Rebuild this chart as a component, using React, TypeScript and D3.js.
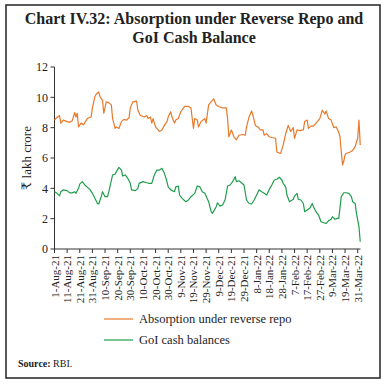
import React from "react";
import * as d3 from "d3";

// day offsets from 1-Aug-21 and values (₹ lakh crore)
const repoDays = [0, 1, 4, 5, 7, 10, 12, 14, 16, 17, 18, 19, 21, 23, 26, 29, 30, 32, 33, 35, 36, 38, 39, 41, 43, 45, 46, 48, 49, 51, 53, 55, 57, 59, 60, 62, 65, 66, 68, 71, 73, 74, 76, 77, 78, 80, 82, 83, 85, 87, 89, 90, 92, 93, 95, 96, 98, 100, 103, 106, 108, 110, 111, 113, 114, 116, 119, 120, 122, 124, 126, 128, 130, 133, 136, 137, 138, 140, 142, 144, 146, 149, 151, 152, 154, 156, 157, 159, 161, 163, 165, 166, 168, 170, 172, 175, 176, 179, 181, 183, 185, 187, 189, 190, 192, 194, 197, 198, 200, 201, 203, 205, 208, 210, 212, 214, 215, 217, 219, 221, 223, 225, 226, 227, 228, 229, 230, 231, 234, 236, 238, 240, 241, 242];
const repoValues = [8.5, 8.6, 8.8, 8.3, 8.5, 8.4, 8.35, 8.45, 9.0, 8.7, 8.95, 8.05, 8.3, 8.2, 8.6, 8.7, 9.3, 10.05, 10.2, 10.35, 10.05, 9.8, 8.95, 9.7, 9.65, 9.5, 8.6, 7.95, 8.05, 7.95, 8.4, 8.55, 8.5, 8.65, 9.3, 9.7, 9.75, 9.15, 8.8, 8.7, 8.8, 8.6, 8.7, 8.3, 8.6, 8.05, 7.85, 7.75, 7.85, 8.15, 8.4, 8.7, 9.05, 8.7, 8.3, 8.5, 8.6, 9.05, 9.4, 9.4, 9.3, 7.95, 8.6, 8.5, 8.05, 8.4, 8.6, 8.3, 9.5, 9.7, 9.9, 9.5, 9.4, 9.3, 9.3, 8.6, 7.4, 7.85, 7.4, 7.2, 7.5, 7.55, 7.5, 8.05, 8.7, 9.1, 8.85, 8.15, 8.05, 7.85, 7.85, 7.5, 7.6, 7.4, 7.35, 7.3, 6.4, 6.3, 6.85, 7.6, 8.15, 7.75, 8.0, 7.3, 7.85, 7.8, 7.85, 8.4, 8.5, 7.95, 8.1, 8.1, 8.4, 8.6, 9.15, 8.9, 9.1, 8.6, 8.5, 8.0, 8.05, 7.7, 7.4, 6.4, 5.55, 5.8, 6.2, 6.3, 6.4, 6.5, 6.75, 7.3, 8.5, 6.85];

const cashDays = [0, 2, 4, 5, 7, 10, 12, 14, 16, 17, 19, 20, 22, 24, 27, 28, 30, 32, 34, 35, 37, 38, 40, 42, 43, 46, 48, 49, 51, 53, 54, 56, 58, 60, 61, 64, 66, 67, 70, 73, 75, 77, 79, 81, 83, 85, 87, 89, 90, 92, 95, 96, 98, 99, 101, 104, 106, 108, 111, 113, 115, 117, 119, 122, 124, 125, 128, 129, 131, 133, 135, 137, 139, 141, 143, 144, 146, 148, 150, 152, 154, 156, 158, 160, 162, 164, 166, 168, 170, 172, 174, 176, 178, 180, 181, 183, 184, 186, 189, 190, 192, 193, 195, 197, 198, 200, 202, 204, 205, 207, 209, 211, 213, 215, 217, 219, 220, 222, 224, 225, 227, 229, 231, 233, 235, 236, 238, 239, 241, 242];
const cashValues = [3.78, 3.67, 3.5, 3.78, 3.9, 3.85, 3.7, 3.7, 3.78, 3.67, 4.0, 4.28, 4.44, 4.22, 4.0, 3.93, 3.67, 3.34, 3.0, 2.97, 3.45, 3.78, 3.45, 3.45, 3.78, 4.88, 4.94, 5.1, 5.38, 5.2, 4.81, 4.88, 4.66, 4.33, 3.9, 3.85, 4.0, 4.33, 4.44, 4.37, 4.33, 4.33, 4.88, 5.2, 5.2, 5.32, 5.0, 4.44, 4.1, 3.9, 3.78, 4.1, 4.15, 3.56, 3.34, 3.12, 3.23, 3.45, 3.67, 4.15, 4.1, 3.78, 3.67, 3.12, 2.46, 2.35, 2.79, 3.05, 2.83, 2.9, 3.23, 4.15, 4.22, 4.44, 4.77, 4.44, 4.5, 4.37, 4.22, 3.23, 3.0, 2.97, 3.23, 3.56, 3.9, 3.78, 3.67, 3.56, 3.93, 4.22, 4.55, 4.6, 4.73, 4.55, 4.33, 4.1, 3.56, 3.12, 3.28, 3.49, 3.67, 3.28, 3.23, 3.0, 2.46, 2.57, 2.68, 3.0, 2.79, 2.46, 2.24, 1.8, 1.73, 1.69, 1.87, 1.96, 2.13, 1.96, 2.02, 2.02, 3.45, 3.71, 3.71, 3.67, 3.45, 3.12, 3.0, 2.35, 1.47, 0.48];

const tickLabels = ["1-Aug-21", "11-Aug-21", "21-Aug-21", "31-Aug-21", "10-Sep-21", "20-Sep-21", "30-Sep-21", "10-Oct-21", "20-Oct-21", "30-Oct-21", "9-Nov-21", "19-Nov-21", "29-Nov-21", "9-Dec-21", "19-Dec-21", "29-Dec-21", "8-Jan-22", "18-Jan-22", "28-Jan-22", "7-Feb-22", "17-Feb-22", "27-Feb-22", "9-Mar-22", "19-Mar-22", "31-Mar-22"];
const yTicks = [0, 2, 4, 6, 8, 10, 12];

const ORANGE = "#E8782A";
const GREEN = "#1F9D4C";
const AXIS = "#333";
const SERIF = "'Liberation Serif', 'DejaVu Serif', serif";

const App = () => {
  const width = 388;
  const height = 384;
  const x = d3.scaleLinear().domain([0, 240]).range([54.5, 357.7]);
  const y = d3.scaleLinear().domain([0, 12]).range([249, 67]);

  const line = d3.line<[number, number]>()
    .x(d => x(d[0]))
    .y(d => y(d[1]));

  const repoPath = line(repoDays.map((d, i) => [d, repoValues[i]]));
  const cashPath = line(cashDays.map((d, i) => [d, cashValues[i]]));

  return (
    <div style={{ position: "fixed", left: 0, top: 0 }}>
      <svg width={width} height={height} fontFamily={SERIF}>
        <rect x={0} y={0} width={width} height={height} fill="#fff" />
        <rect x={6} y={5} width={374} height={373} fill="none" stroke="#222" strokeWidth={1.5} />

        <text x={194} y={24} textAnchor="middle" fontSize={16} fontWeight="bold" fill="#222">
          Chart IV.32: Absorption under Reverse Repo and
        </text>
        <text x={194} y={43} textAnchor="middle" fontSize={16} fontWeight="bold" fill="#222">
          GoI Cash Balance
        </text>

        {/* y axis */}
        <line x1={54.5} x2={54.5} y1={y(12)} y2={y(0)} stroke={AXIS} />
        {yTicks.map(t => (
          <g key={t}>
            <line x1={50.5} x2={54.5} y1={y(t)} y2={y(t)} stroke={AXIS} />
            <text x={48} y={y(t)} dy="0.35em" textAnchor="end" fontSize={12} fill="#222">{t}</text>
          </g>
        ))}
        <text transform={`translate(31,${(y(0) + y(12)) / 2}) rotate(-90)`} textAnchor="middle" fontSize={13} fill="#222">
          ₹ lakh crore
        </text>

        {/* x axis */}
        <line x1={54.5} x2={360.5} y1={y(0)} y2={y(0)} stroke={AXIS} />
        {tickLabels.map((lab, i) => {
          const px = x(i * 10);
          return (
            <g key={lab}>
              <line x1={px} x2={px} y1={y(0)} y2={y(0) + 4} stroke={AXIS} />
              <text transform={`translate(${px + 4},${y(0) + 6}) rotate(-90)`} textAnchor="end" fontSize={11} fill="#222">
                {lab}
              </text>
            </g>
          );
        })}

        <path d={repoPath ?? ""} fill="none" stroke={ORANGE} strokeWidth={1.2} strokeLinejoin="round" />
        <path d={cashPath ?? ""} fill="none" stroke={GREEN} strokeWidth={1.2} strokeLinejoin="round" />

        {/* legend */}
        <line x1={104} x2={133} y1={319} y2={319} stroke={ORANGE} strokeWidth={1.2} />
        <text x={139} y={319} dy="0.35em" fontSize={12.5} fill="#222">Absorption under reverse repo</text>
        <line x1={104} x2={133} y1={340} y2={340} stroke={GREEN} strokeWidth={1.2} />
        <text x={139} y={340} dy="0.35em" fontSize={12.5} fill="#222">GoI cash balances</text>

        <text x={18} y={367} fontSize={10} fill="#222">
          <tspan fontWeight="bold">Source: </tspan>RBI.
        </text>
      </svg>
    </div>
  );
};

export default App;
